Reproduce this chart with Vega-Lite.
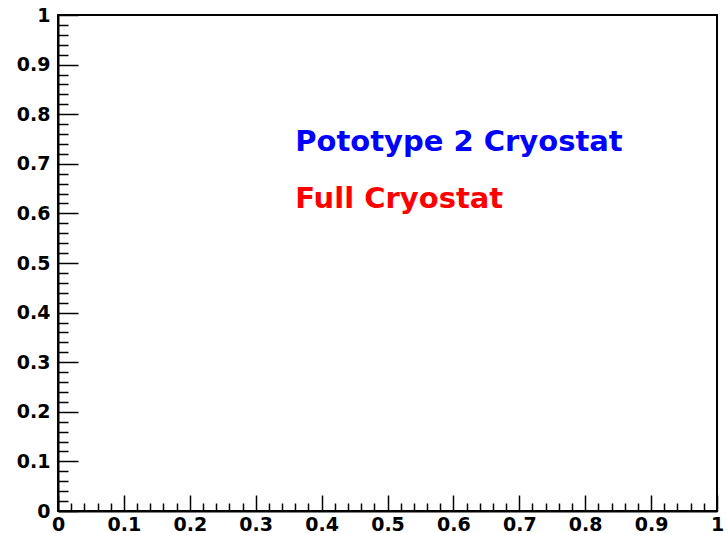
{
  "$schema": "https://vega.github.io/schema/vega-lite/v6.json",
  "width": 659,
  "height": 496,
  "autosize": {"type": "none"},
  "padding": {"left": 58, "top": 15, "right": 11, "bottom": 22},
  "background": "white",
  "config": {
    "view": {"stroke": "black", "strokeWidth": 2},
    "axis": {
      "domainColor": "black",
      "domainWidth": 2,
      "tickColor": "black",
      "tickWidth": 1.5,
      "labelFont": "DejaVu Sans",
      "labelFontWeight": "bold",
      "labelFontSize": 19,
      "labelColor": "black",
      "labelFlush": false,
      "labelOverlap": false,
      "grid": false,
      "title": null
    }
  },
  "data": {
    "values": [
      {"x": 0.36, "y": 0.725, "label": "Pototype 2 Cryostat"},
      {"x": 0.36, "y": 0.61, "label": "Full Cryostat"}
    ]
  },
  "layer": [
    {
      "mark": {"type": "text", "font": "DejaVu Sans", "fontWeight": "bold", "fontSize": 29, "align": "left", "baseline": "alphabetic"},
      "encoding": {
        "x": {"field": "x", "type": "quantitative", "scale": {"domain": [0, 1], "nice": false, "zero": false},
          "axis": {"orient": "bottom", "values": [0, 0.1, 0.2, 0.3, 0.4, 0.5, 0.6, 0.7, 0.8, 0.9, 1], "format": "~g", "tickSize": -16, "labelPadding": 20}},
        "y": {"field": "y", "type": "quantitative", "scale": {"domain": [0, 1], "nice": false, "zero": false},
          "axis": {"orient": "left", "values": [0, 0.1, 0.2, 0.3, 0.4, 0.5, 0.6, 0.7, 0.8, 0.9, 1], "format": "~g", "tickSize": -20, "labelPadding": 28}},
        "text": {"field": "label", "type": "nominal"},
        "color": {"field": "label", "type": "nominal", "legend": null,
          "scale": {"domain": ["Pototype 2 Cryostat", "Full Cryostat"], "range": ["#0000ff", "#ff0000"]}}
      }
    },
    {
      "mark": {"type": "point", "opacity": 0},
      "encoding": {
        "x": {"field": "x", "type": "quantitative", "scale": {"domain": [0, 1], "nice": false, "zero": false},
          "axis": {"orient": "bottom", "values": [0.02, 0.04, 0.06, 0.08, 0.12, 0.14, 0.16, 0.18, 0.22, 0.24, 0.26, 0.28, 0.32, 0.34, 0.36, 0.38, 0.42, 0.44, 0.46, 0.48, 0.52, 0.54, 0.56, 0.58, 0.62, 0.64, 0.66, 0.68, 0.72, 0.74, 0.76, 0.78, 0.82, 0.84, 0.86, 0.88, 0.92, 0.94, 0.96, 0.98], "labels": false, "tickSize": -8, "domain": false}},
        "y": {"field": "y", "type": "quantitative", "scale": {"domain": [0, 1], "nice": false, "zero": false},
          "axis": {"orient": "left", "values": [0.02, 0.04, 0.06, 0.08, 0.12, 0.14, 0.16, 0.18, 0.22, 0.24, 0.26, 0.28, 0.32, 0.34, 0.36, 0.38, 0.42, 0.44, 0.46, 0.48, 0.52, 0.54, 0.56, 0.58, 0.62, 0.64, 0.66, 0.68, 0.72, 0.74, 0.76, 0.78, 0.82, 0.84, 0.86, 0.88, 0.92, 0.94, 0.96, 0.98], "labels": false, "tickSize": -10, "domain": false}}
      }
    }
  ],
  "resolve": {"scale": {"x": "independent", "y": "independent"}, "axis": {"x": "independent", "y": "independent"}}
}
